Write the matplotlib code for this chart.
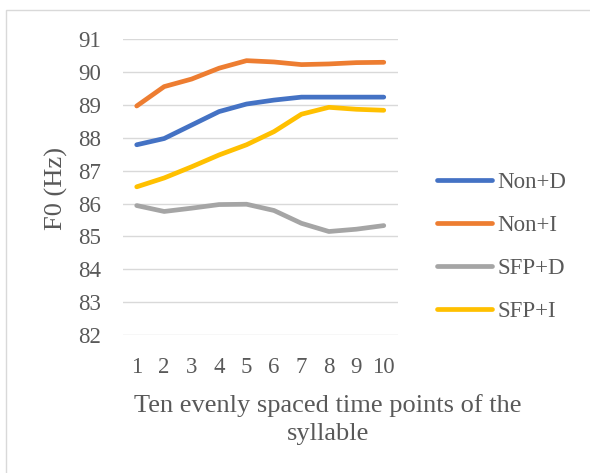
import matplotlib
matplotlib.use("Agg")
import matplotlib.pyplot as plt
from matplotlib.patches import Rectangle

# F0 values
time_points = [1, 2, 3, 4, 5, 6, 7, 8, 9, 10]
non_d = [87.79, 87.98, 88.39, 88.80, 89.03, 89.15, 89.24, 89.24, 89.24, 89.24]
non_i = [88.97, 89.56, 89.79, 90.12, 90.35, 90.31, 90.23, 90.25, 90.29, 90.30]
sfp_d = [85.94, 85.76, 85.86, 85.97, 85.98, 85.79, 85.40, 85.15, 85.22, 85.33]
sfp_i = [86.51, 86.78, 87.12, 87.48, 87.79, 88.19, 88.72, 88.93, 88.87, 88.84]

series_names = ["Non+D", "Non+I", "SFP+D", "SFP+I"]
colors = ["#4472C4", "#ED7D31", "#A5A5A5", "#FFC000"]
y_ticks = list(range(82, 92))

text_col = "#595959"
plt.rcParams["font.family"] = ["Liberation Serif", "DejaVu Serif"]

fig = plt.figure(figsize=(5.9, 4.73), dpi=100)
W, H = 590, 473

# light chart border (only left/top visible in the crop)
fig.patches.append(Rectangle((6 / W, -0.1), 1.2, 1 - 10.5 / H + 0.1,
                             transform=fig.transFigure, fill=False,
                             edgecolor="#D9D9D9", lw=1.0))

ax = fig.add_axes([123 / W, 1 - 335 / H, (397.5 - 123) / W, (335 - 39.3) / H])

for vals, name, c in zip([non_d, non_i, sfp_d, sfp_i], series_names, colors):
    ax.plot(time_points, vals, color=c, lw=3.4, label=name,
            solid_capstyle="round", solid_joinstyle="round")

ax.set_xlim(0.5, 10.5)
ax.set_ylim(82, 91)
ax.set_xticks(time_points)
ax.set_yticks(y_ticks)
ax.tick_params(length=0, labelsize=16.5, colors=text_col)
ax.tick_params(axis="y", pad=16)
ax.tick_params(axis="x", pad=16)
ax.grid(axis="y", color="#D9D9D9", lw=1.0)
ax.set_axisbelow(True)
for s in ax.spines.values():
    s.set_visible(False)

fig.text(56.5 / W, 1 - 188 / H, "F0 (Hz)", rotation=90, ha="center",
         va="center", fontsize=19, color=text_col)
# va="baseline" anchors the last line here
fig.text(328 / W, 1 - 440 / H, "Ten evenly spaced time points of the\nsyllable",
         ha="center", va="baseline", fontsize=19, color=text_col,
         linespacing=1.35)

leg = ax.legend(loc="center left", bbox_to_anchor=(437 / W, 1 - 247 / H),
                bbox_transform=fig.transFigure, frameon=False, fontsize=16.5,
                handlelength=2.4, handletextpad=0.22, labelspacing=0.95,
                borderpad=0, borderaxespad=0)
for t in leg.get_texts():
    t.set_color(text_col)
for l in leg.get_lines():
    l.set_solid_capstyle("round")

fig.savefig("out.png", dpi=100)
